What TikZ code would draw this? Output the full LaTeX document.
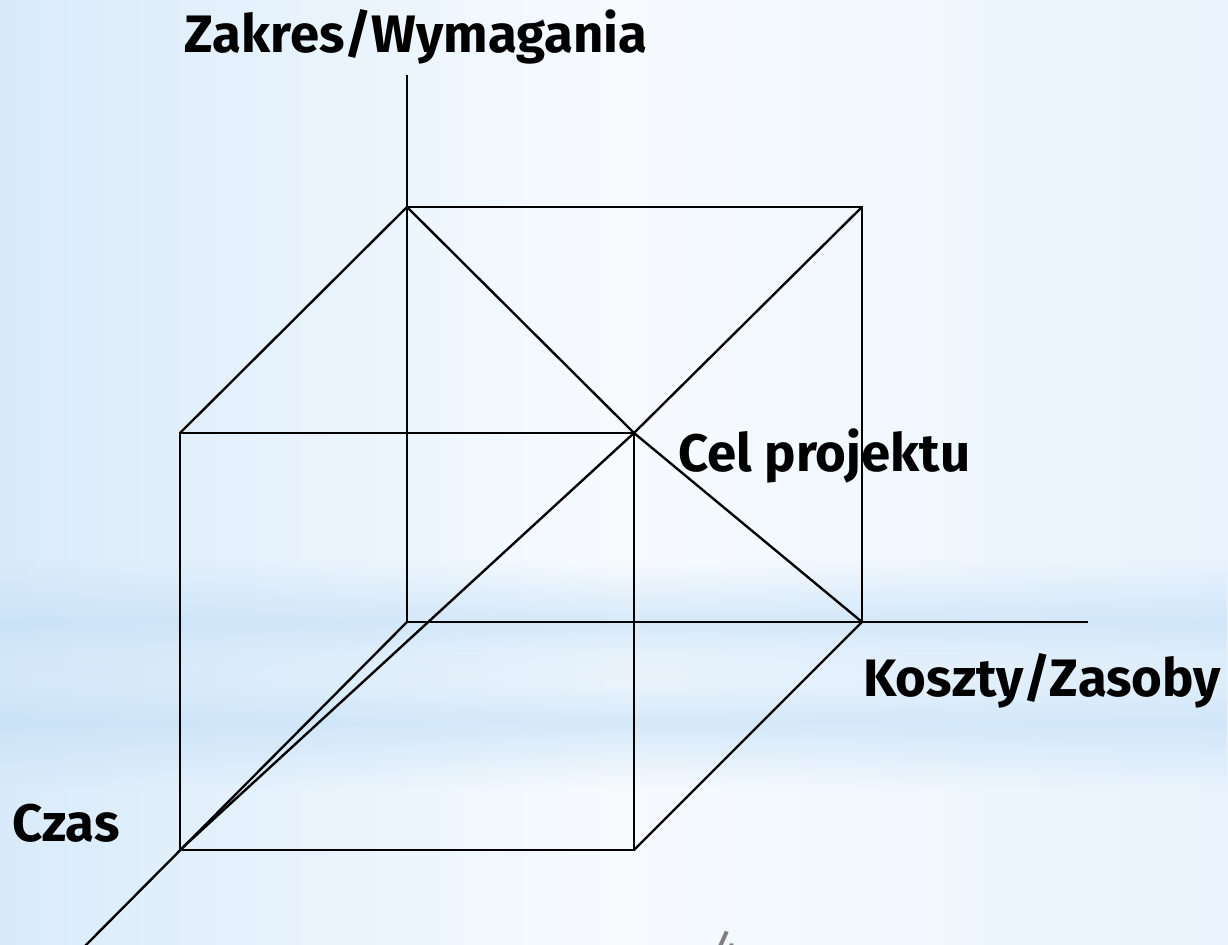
\documentclass[tikz,border=0pt]{standalone}
\usepackage{fontspec}
\setmainfont{Fira Sans}
\usetikzlibrary{fadings}
\definecolor{slideblue}{HTML}{C4E0F7}
\definecolor{slidepale}{HTML}{F2F8FE}
\definecolor{slideink}{HTML}{000000}
\definecolor{slidegray}{HTML}{7F7F7F}
\tikzfading[name=bandfade, top color=transparent!100, bottom color=transparent!100,
  middle color=transparent!35]

\begin{document}
\begin{tikzpicture}[
  x=0.02cm,
  y=-0.02cm,
  every node/.style={font=\fontsize{30}{34}\selectfont\bfseries, slideink, inner sep=0pt},
  edge/.style={slideink, line width=1.35pt},
  band/.style={fill=slideblue, path fading=bandfade}
]

% background of the slide
\useasboundingbox (0,0) rectangle (1228,945);
\shade[left color=slideblue!55!slidepale, right color=slidepale!80!slideblue, middle color=slidepale!60!white]
  (0,0) rectangle (1228,945);
\path[band] (0,560) rectangle (1228,685);
\path[band] (0,655) rectangle (1228,790);

% corners of the cube
\coordinate (bbl) at (407,622);
\coordinate (btl) at (407,207);
\coordinate (btr) at (862,207);
\coordinate (bbr) at (862,622);
\coordinate (ftl) at (180,433);
\coordinate (ftr) at (634,433);
\coordinate (fbl) at (180,850);
\coordinate (fbr) at (634,850);

% free ends of the axes
\coordinate (zend) at (407,75);
\coordinate (kend) at (1088,622);
\coordinate (cend) at (84,947);

% axes
\draw[edge] (zend) -- (bbl);
\draw[edge] (bbl) -- (kend);
\draw[edge] (bbl) -- (cend);

% cube
\draw[edge] (btl) -- (btr) -- (bbr);
\draw[edge] (ftl) -- (ftr) -- (fbr) -- (fbl) -- cycle;
\draw[edge] (btl) -- (ftl);
\draw[edge] (btr) -- (ftr);
\draw[edge] (bbr) -- (fbr);

% diagonals through the goal
\draw[edge] (btl) -- (ftr);
\draw[edge] (ftr) -- (bbr);
\draw[edge] (ftr) -- (fbl);

% labels
\node[anchor=base] (zakres) at (416,53) {Zakres/Wymagania};
\node[anchor=base west] (cel) at (678,472) {Cel projektu};
\node[anchor=base west] (koszty) at (863,697) {Koszty/Zasoby};
\node[anchor=base west] (czas) at (12,842) {Czas};
\node[anchor=north, font=\fontsize{28}{32}\selectfont, slidegray] (nr) at (727,931) {4};

\end{tikzpicture}
\end{document}
